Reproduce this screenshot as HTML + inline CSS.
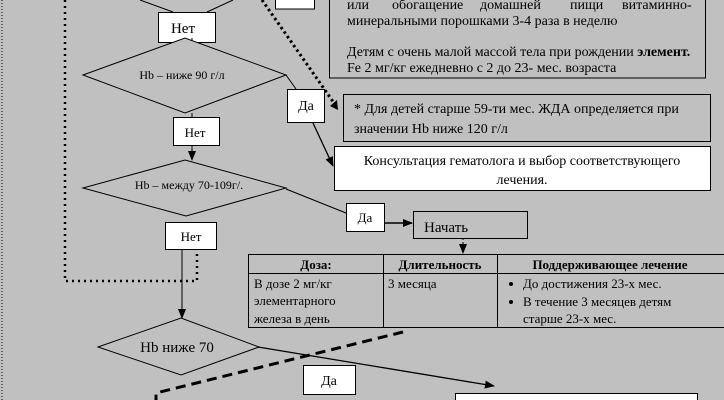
<!DOCTYPE html>
<html><head><meta charset="utf-8"><style>
html,body{margin:0;padding:0;background:#c0c0c0;}
svg{display:block;font-family:"Liberation Serif",serif;}
</style></head><body>
<svg width="724" height="400" viewBox="0 0 724 400" xmlns="http://www.w3.org/2000/svg">
<defs>
<marker id="ah" markerWidth="10" markerHeight="10" refX="9" refY="5" orient="auto" markerUnits="userSpaceOnUse"><path d="M0,1 L10,5 L0,9 Z" fill="#000"/></marker>
</defs>
<rect width="724" height="400" fill="#c0c0c0"/>
<line x1="2" y1="0" x2="2" y2="400" stroke="#000" stroke-width="1" stroke-dasharray="1,2"/>
<polyline points="65,0 65,281 197,281 197,252" fill="none" stroke="#000" stroke-width="2.5" stroke-dasharray="2,4"/>
<line x1="140" y1="0" x2="173" y2="12" stroke="#000"/>
<line x1="233" y1="0" x2="207" y2="12" stroke="#000"/>
<rect x="158.5" y="12.5" width="57" height="30" fill="#fff" stroke="#000"/>
<text x="183" y="33" font-size="15" text-anchor="middle">Нет</text>
<line x1="192" y1="42" x2="192" y2="38" stroke="#000"/>
<polygon points="83,75 185,38 286,75 185,113" fill="#c0c0c0" stroke="#000"/>
<text x="182" y="79" font-size="12" text-anchor="middle">Hb – ниже 90 г/л</text>
<rect x="173.5" y="117.5" width="46" height="28" fill="#fff" stroke="#000"/>
<text x="195" y="137" font-size="13" text-anchor="middle">Нет</text>
<line x1="192" y1="113" x2="192" y2="117" stroke="#000"/>
<line x1="192" y1="146" x2="192" y2="160" stroke="#000" marker-end="url(#ah)"/>
<polygon points="83,188 185,160 286,188 186,216" fill="#c0c0c0" stroke="#000"/>
<text x="189" y="189" font-size="12" text-anchor="middle">Hb – между 70-109г/.</text>
<rect x="165.5" y="222.5" width="51" height="27" fill="#fff" stroke="#000"/>
<text x="191" y="241" font-size="13" text-anchor="middle">Нет</text>
<line x1="182" y1="250" x2="182" y2="318" stroke="#000" marker-end="url(#ah)"/>
<polygon points="98,347 181,318 259,347 181,375" fill="#c0c0c0" stroke="#000"/>
<text x="177" y="352" font-size="15" text-anchor="middle">Hb ниже 70</text>
<line x1="258" y1="347" x2="494" y2="386" stroke="#000" stroke-width="1.3" marker-end="url(#ah)"/>
<rect x="303.5" y="365.5" width="52" height="29" fill="#fff" stroke="#000"/>
<text x="329" y="385" font-size="14" text-anchor="middle">Да</text>
<polyline points="403,332 156,393 156,400" fill="none" stroke="#000" stroke-width="3" stroke-dasharray="10,6"/>
<rect x="455.5" y="393.5" width="242" height="20" fill="#fff" stroke="#000"/>
<rect x="275.5" y="-5" width="39" height="14" fill="#fff" stroke="#000"/>
<line x1="262" y1="0" x2="334" y2="103" stroke="#000" stroke-width="3" stroke-dasharray="2.5,3"/>
<path d="M330,106 L338,110 L337,100 Z" fill="#000"/>
<rect x="329.5" y="-5" width="376" height="83" fill="#c0c0c0" stroke="#000"/>
<text font-size="14"><tspan x="347" y="9">или</tspan><tspan x="392" y="9">обогащение</tspan><tspan x="480" y="9">домашней</tspan><tspan x="570" y="9">пищи</tspan><tspan x="622" y="9">витаминно-</tspan></text>
<text x="347" y="25" font-size="14">минеральными порошками 3-4 раза в неделю</text>
<text x="347" y="56" font-size="14">Детям с очень малой массой тела при рождении <tspan font-weight="bold">элемент.</tspan></text>
<text x="347" y="72" font-size="14">Fe 2 мг/кг ежедневно с 2 до 23- мес. возраста</text>
<line x1="286" y1="75" x2="296" y2="89" stroke="#000"/>
<rect x="287.5" y="89.5" width="37" height="33" fill="#fff" stroke="#000"/>
<text x="306" y="110" font-size="14" text-anchor="middle">Да</text>
<line x1="313" y1="123" x2="333" y2="166" stroke="#000" stroke-width="1.3" marker-end="url(#ah)"/>
<rect x="343.5" y="94.5" width="367" height="47" fill="#c0c0c0" stroke="#000"/>
<text x="354" y="113" font-size="14">* Для детей старше 59-ти мес. ЖДА определяется при</text>
<text x="354" y="133" font-size="14">значении Hb ниже 120 г/л</text>
<rect x="334.5" y="146.5" width="376" height="44" fill="#fff" stroke="#000"/>
<text x="522" y="165" font-size="14" text-anchor="middle">Консультация гематолога и выбор соответствующего</text>
<text x="522" y="184" font-size="14" text-anchor="middle">лечения.</text>
<line x1="286" y1="189" x2="346" y2="213" stroke="#000"/>
<rect x="346.5" y="203.5" width="38" height="28" fill="#fff" stroke="#000"/>
<text x="365" y="222" font-size="13" text-anchor="middle">Да</text>
<line x1="385" y1="223" x2="412" y2="223" stroke="#000" stroke-width="1.5" marker-end="url(#ah)"/>
<rect x="413.5" y="211.5" width="114" height="27" fill="#c0c0c0" stroke="#000"/>
<text x="424" y="232" font-size="15">Начать</text>
<line x1="463" y1="238" x2="463" y2="253" stroke="#000" stroke-dasharray="2,2" marker-end="url(#ah)"/>
<g stroke="#000" fill="none">
<line x1="248" y1="254.5" x2="724" y2="254.5"/>
<line x1="248" y1="273.5" x2="724" y2="273.5"/>
<line x1="248" y1="327.5" x2="724" y2="327.5"/>
<line x1="248.5" y1="254" x2="248.5" y2="328"/>
<line x1="383.5" y1="254" x2="383.5" y2="328"/>
<line x1="497.5" y1="254" x2="497.5" y2="328"/>
</g>
<text font-size="13" font-weight="bold" text-anchor="middle"><tspan x="316" y="269">Доза:</tspan><tspan x="440" y="269">Длительность</tspan><tspan x="610" y="269">Поддерживающее лечение</tspan></text>
<text font-size="13"><tspan x="254" y="288">В дозе 2 мг/кг</tspan><tspan x="254" y="305">элементарного</tspan><tspan x="254" y="323">железа в день</tspan><tspan x="388" y="288">3 месяца</tspan></text>
<circle cx="511" cy="284" r="2" fill="#000"/><circle cx="511" cy="302" r="2" fill="#000"/>
<text font-size="13"><tspan x="523" y="288">До достижения 23-х мес.</tspan><tspan x="523" y="306">В течение 3 месяцев детям</tspan><tspan x="523" y="323">старше 23-х мес.</tspan></text>
</svg>
</body></html>
